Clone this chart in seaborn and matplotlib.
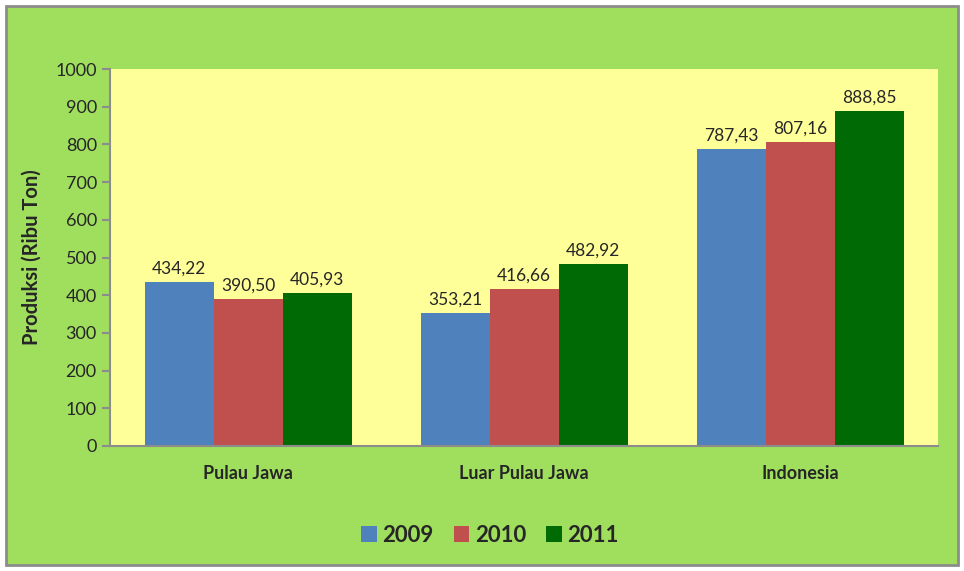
import pandas as pd
import numpy as np
import matplotlib.pyplot as plt
import seaborn as sns
from matplotlib.patches import Rectangle

# data
regions = ["Pulau Jawa", "Luar Pulau Jawa", "Indonesia"]
years = ["2009", "2010", "2011"]
prod_2009 = [434.22, 353.21, 787.43]
prod_2010 = [390.50, 416.66, 807.16]
prod_2011 = [405.93, 482.92, 888.85]

df = pd.DataFrame({
    "Wilayah": regions * 3,
    "Tahun": [y for y in years for _ in regions],
    "Produksi": prod_2009 + prod_2010 + prod_2011,
})

sns.set_style("white")
plt.rcParams['font.family'] = ['Lato', 'DejaVu Sans']

colors = ["#4f81bd", "#c0504d", "#006a04"]

fig = plt.figure(figsize=(9.64, 5.71), dpi=100)
fig.patch.set_facecolor("white")
# green chart area with grey frame
fig.patches.append(Rectangle((6/964, 6/571), 952/964, 559/571, transform=fig.transFigure,
                             facecolor="#a0de5e", edgecolor="#8c8c8c", linewidth=2, zorder=-1))

ax = fig.add_axes([110/964, 125/571, 828/964, 377/571])
ax.set_facecolor("#ffff99")

sns.barplot(data=df, x="Wilayah", y="Produksi", hue="Tahun", palette=colors,
            width=0.75, gap=0, ax=ax, saturation=1, linewidth=0)

for cont in ax.containers:
    labels = [f"{v:.2f}".replace(".", ",") for v in cont.datavalues]
    ax.bar_label(cont, labels=labels, padding=4, fontsize=12.5)

ax.set_ylim(0, 1000)
ax.set_xlim(-0.5, 2.5)
ax.set_yticks(np.arange(0, 1001, 100))
ax.tick_params(axis="y", labelsize=13, length=6, width=1.5, color="#8c8c8c", direction="out", left=True)
ax.set_xticks([0, 1, 2])
ax.set_xticklabels(regions, fontsize=13, fontweight="bold")
ax.tick_params(axis="x", length=0, pad=14)
# category boundary ticks
ax.set_xticks([-0.5, 0.5, 1.5, 2.5], minor=True)
ax.tick_params(axis="x", which="minor", length=6, width=1.5, color="#8c8c8c", direction="out")

for s in ["top", "right"]:
    ax.spines[s].set_visible(False)
for s in ["left", "bottom"]:
    ax.spines[s].set_color("#8c8c8c")
    ax.spines[s].set_linewidth(1.5)

ax.set_xlabel("")
ax.set_ylabel("Produksi (Ribu Ton)", fontsize=14.5, fontweight="bold", labelpad=10)

leg = ax.legend(loc="center", bbox_to_anchor=(490/964, 36/571), bbox_transform=fig.transFigure,
                ncol=3, frameon=False, prop={"size": 16, "weight": "bold"},
                handlelength=0.7, handleheight=0.7, handletextpad=0.25, columnspacing=0.9)

fig.savefig("out.png", dpi=100, facecolor=fig.get_facecolor())
